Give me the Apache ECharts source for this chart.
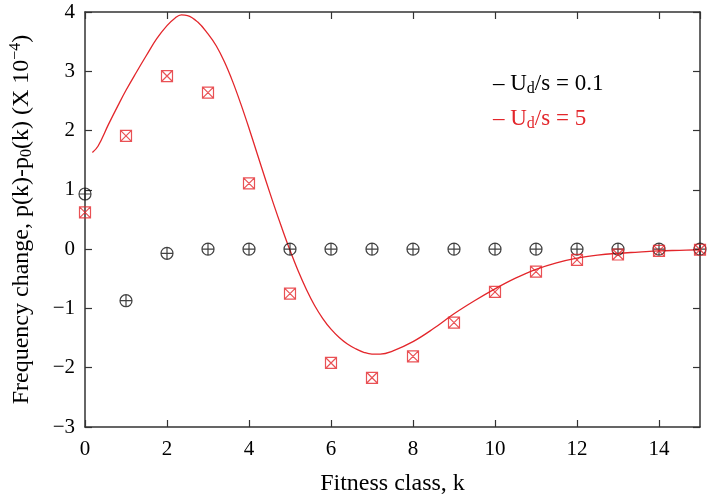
<!DOCTYPE html>
<html><head><meta charset="utf-8">
<script src="https://cdn.jsdelivr.net/npm/echarts@6/dist/echarts.min.js"></script>
<style>html,body{margin:0;padding:0;background:#fff}#c{width:709px;height:501px}</style>
</head><body><div id="c"></div>
<script>
// Fitness classes k
var classes = [0,1,2,3,4,5,6,7,8,9,10,11,12,13,14,15];
// Simulation points, Ud/s = 0.1 (x 1e-4)
var lowU = [0.93,-0.87,-0.07,0,0,0,0,0,0,0,0,0,0,0,0,0];
// Simulation points, Ud/s = 5 (x 1e-4)
var highU = [0.62,1.91,2.92,2.64,1.11,-0.75,-1.92,-2.17,-1.81,-1.24,-0.72,-0.38,-0.18,-0.09,-0.03,-0.01];
// Theory curve for Ud/s = 5
var curveK = [0.18,0.32,0.57,0.81,1.0,1.25,1.5,1.75,2.0,2.2,2.35,2.5,2.75,3.0,3.2,3.4,3.6,3.8,4.0,4.2,4.4,4.6,4.8,5.0,5.2,5.4,5.6,5.8,6.0,6.2,6.4,6.6,6.8,7.0,7.2,7.5,8.0,8.5,9.0,9.5,10,10.5,11,11.5,12,12.5,13,13.5,14,14.5,15];
var curveV = [1.63,1.74,2.10,2.43,2.68,2.98,3.27,3.55,3.77,3.90,3.95,3.94,3.83,3.63,3.43,3.16,2.83,2.45,2.04,1.61,1.18,0.76,0.36,-0.02,-0.37,-0.68,-0.95,-1.17,-1.35,-1.49,-1.60,-1.68,-1.74,-1.77,-1.77,-1.72,-1.56,-1.34,-1.09,-0.87,-0.67,-0.49,-0.34,-0.23,-0.15,-0.10,-0.07,-0.05,-0.03,-0.02,-0.01];
var xTicks = {min:0, max:15, interval:2};
var yTicks = {min:-3, max:4, interval:1};
var legendNames = ['Ud/s = 0.1', 'Ud/s = 5'];

var RED = '#e3262b';
var FONT = 'Liberation Serif';
function zip(a,b){return a.map(function(v,i){return [v,b[i]];});}
var circlePlus = 'path://M0,-6A6,6 0 1,1 0,6A6,6 0 1,1 0,-6ZM-6,0L6,0M0,-6L0,6';
var squareX = 'path://M0,0L10,0L10,10L0,10ZM0,0L10,10M10,0L0,10';

var axisLine = {show:true, onZero:false, lineStyle:{color:'#333', width:1.5}};
var axisTick = {show:true, inside:true, length:7, lineStyle:{color:'#333', width:1.2}};
var chart = echarts.init(document.getElementById('c'));
chart.setOption({
  animation:false,
  backgroundColor:'#fff',
  grid:{left:83, right:9, top:12, bottom:69},
  legend:{
    orient:'vertical', left:483, top:67, itemGap:10,
    icon:'none', itemWidth:0, itemHeight:0,
    formatter:function(n){return '\u2013 ' + n.replace('Ud','U{sub|d}');},
    textStyle:{fontFamily:FONT, fontSize:23, color:'#000', padding:0,
      rich:{sub:{fontFamily:FONT, fontSize:16, verticalAlign:'bottom', padding:[11,0,0,0]}}},
    data:[
      {name:legendNames[0], textStyle:{color:'#000', rich:{sub:{color:'#000'}}}},
      {name:legendNames[1], textStyle:{color:RED, rich:{sub:{color:RED}}}}
    ]
  },
  xAxis:[{
    type:'value', min:xTicks.min, max:xTicks.max, interval:xTicks.interval,
    axisLine:axisLine, axisTick:axisTick, splitLine:{show:false},
    axisLabel:{fontFamily:FONT, fontSize:21, color:'#000', margin:12, showMaxLabel:false},
    name:'Fitness class, k', nameLocation:'middle', nameGap:45,
    nameTextStyle:{fontFamily:FONT, fontSize:24, color:'#000'}
  },{
    type:'value', position:'top', min:xTicks.min, max:xTicks.max, interval:xTicks.interval,
    axisLine:axisLine, axisTick:axisTick, splitLine:{show:false}, axisLabel:{show:false}
  }],
  yAxis:[{
    type:'value', min:yTicks.min, max:yTicks.max, interval:yTicks.interval,
    axisLine:axisLine, axisTick:axisTick, splitLine:{show:false},
    axisLabel:{fontFamily:FONT, fontSize:21, color:'#000', margin:10,
      formatter:function(v){return v<0 ? '\u2212'+Math.abs(v) : String(v);}},
    name:'Frequency change, p(k)-p{sub|0}(k) (X 10{sup|\u22124})', nameLocation:'middle', nameGap:50,
    nameTextStyle:{fontFamily:FONT, fontSize:24, color:'#000',
      rich:{sub:{fontFamily:FONT, fontSize:16, verticalAlign:'bottom', padding:[9,0,0,0], color:'#000'},
            sup:{fontFamily:FONT, fontSize:16, verticalAlign:'top', padding:[0,0,11,0], color:'#000'}}}
  },{
    type:'value', position:'right', min:yTicks.min, max:yTicks.max, interval:yTicks.interval,
    axisLine:axisLine, axisTick:axisTick, splitLine:{show:false}, axisLabel:{show:false}
  }],
  series:[
    {name:legendNames[0], type:'scatter', data:zip(classes, lowU), symbol:circlePlus, symbolSize:12,
     itemStyle:{color:'rgba(0,0,0,0)', borderColor:'#111', borderWidth:1.2}, z:3},
    {name:legendNames[1], type:'line', data:zip(curveK, curveV), smooth:0.4, showSymbol:false,
     lineStyle:{color:RED, width:1.3}, itemStyle:{color:RED}},
    {name:legendNames[1], type:'scatter', data:zip(classes, highU), symbol:squareX, symbolSize:11,
     itemStyle:{color:'rgba(0,0,0,0)', borderColor:RED, borderWidth:1.2}, z:4}
  ]
});
</script></body></html>
